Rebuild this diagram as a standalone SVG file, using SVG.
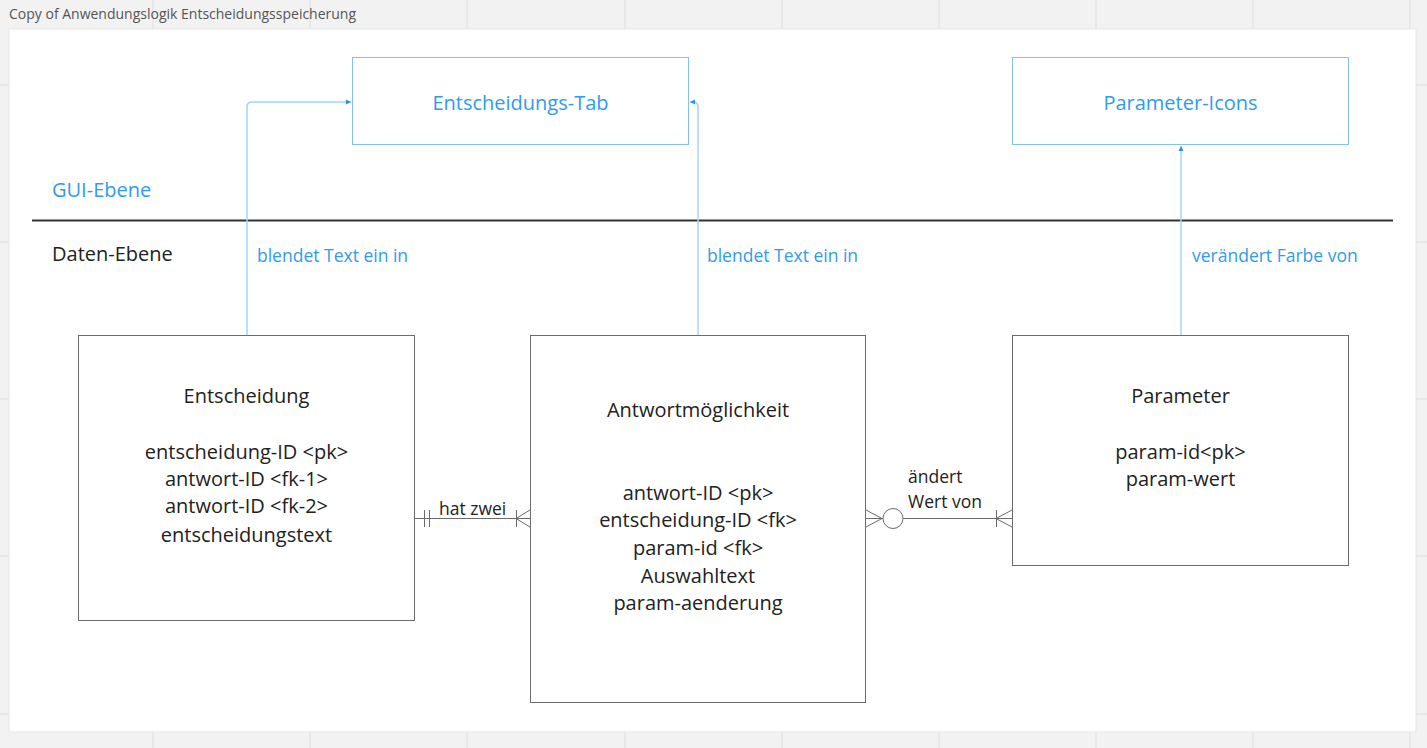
<svg xmlns="http://www.w3.org/2000/svg" width="1427" height="748" viewBox="0 0 1427 748">
<style>
text{font-family:"Open Sans","Liberation Sans",sans-serif}
.grid{stroke:#e4e4e4;stroke-width:1.5}
.gui{fill:#fff;stroke:#82c0f5;stroke-width:1}
.ent{fill:#fff;stroke:#6b6b6b;stroke-width:1}
.bt{fill:#2f9bef;font-size:20px;text-anchor:middle}
.nt{fill:#222;font-size:20px;text-anchor:middle}
.lbl{fill:#2f9bef;font-size:17.5px}
.rl{fill:#222;font-size:17.5px}
.rel{stroke:#6b6b6b;stroke-width:1;fill:none}
.up{stroke:#a6d2fa;stroke-width:1.5;fill:none}
</style>
<defs>
<marker id="ah" markerWidth="6" markerHeight="6" refX="5" refY="3" orient="auto" markerUnits="userSpaceOnUse">
<path d="M0,0.5 L5,3 L0,5.5 Z" fill="#2f8fe0"/>
</marker>
</defs>
<rect x="0" y="0" width="1427" height="748" fill="#f2f2f2"/>
<g id="grid">
<line class="grid" x1="153" y1="0" x2="153" y2="748"/>
<line class="grid" x1="310" y1="0" x2="310" y2="748"/>
<line class="grid" x1="467" y1="0" x2="467" y2="748"/>
<line class="grid" x1="625" y1="0" x2="625" y2="748"/>
<line class="grid" x1="782" y1="0" x2="782" y2="748"/>
<line class="grid" x1="939" y1="0" x2="939" y2="748"/>
<line class="grid" x1="1096" y1="0" x2="1096" y2="748"/>
<line class="grid" x1="1253" y1="0" x2="1253" y2="748"/>
<line class="grid" x1="1410" y1="0" x2="1410" y2="748"/>
<line class="grid" x1="0" y1="85" x2="1427" y2="85"/>
<line class="grid" x1="0" y1="242" x2="1427" y2="242"/>
<line class="grid" x1="0" y1="399" x2="1427" y2="399"/>
<line class="grid" x1="0" y1="556" x2="1427" y2="556"/>
<line class="grid" x1="0" y1="714" x2="1427" y2="714"/>
</g>
<text x="9" y="19" font-size="14" fill="#555">Copy of Anwendungslogik Entscheidungsspeicherung</text>
<rect x="9" y="29" width="1407" height="703" fill="#fff" stroke="#e6e6e6" stroke-width="1"/>

<g id="layers">
<text x="52" y="197" font-size="20" fill="#2f9bef">GUI-Ebene</text>
<line x1="32" y1="220.5" x2="1393" y2="220.5" stroke="#333" stroke-width="2"/>
<text x="52" y="261" font-size="20" fill="#222">Daten-Ebene</text>
</g>

<g id="node-entscheidungs-tab">
<rect class="gui" x="352.5" y="57.5" width="336" height="87"/>
<text class="bt" x="520.5" y="110">Entscheidungs-Tab</text>
</g>
<g id="node-parameter-icons">
<rect class="gui" x="1012.5" y="57.5" width="336" height="87"/>
<text class="bt" x="1180.5" y="110">Parameter-Icons</text>
</g>

<g id="node-entscheidung">
<rect class="ent" x="78.5" y="335.5" width="336" height="285"/>
<text class="nt" x="246.5" y="403">Entscheidung</text>
<text class="nt" x="246.5" y="459">entscheidung-ID &lt;pk&gt;</text>
<text class="nt" x="246.5" y="486">antwort-ID &lt;fk-1&gt;</text>
<text class="nt" x="246.5" y="513">antwort-ID &lt;fk-2&gt;</text>
<text class="nt" x="246.5" y="542">entscheidungstext</text>
</g>

<g id="node-antwortmoeglichkeit">
<rect class="ent" x="530.5" y="335.5" width="335" height="367"/>
<text class="nt" x="698" y="417">Antwortmöglichkeit</text>
<text class="nt" x="698" y="500">antwort-ID &lt;pk&gt;</text>
<text class="nt" x="698" y="527">entscheidung-ID &lt;fk&gt;</text>
<text class="nt" x="698" y="555">param-id &lt;fk&gt;</text>
<text class="nt" x="698" y="583">Auswahltext</text>
<text class="nt" x="698" y="610">param-aenderung</text>
</g>

<g id="node-parameter">
<rect class="ent" x="1012.5" y="335.5" width="336" height="230"/>
<text class="nt" x="1180.5" y="403">Parameter</text>
<text class="nt" x="1180.5" y="459">param-id&lt;pk&gt;</text>
<text class="nt" x="1180.5" y="486">param-wert</text>
</g>

<g id="connectors">
<path class="up" d="M247,335 V107 Q247,102 252,102 H351" marker-end="url(#ah)"/>
<path class="up" d="M698,335 V107 Q698,102 693,102 H690" marker-end="url(#ah)"/>
<path class="up" d="M1181,335 V146" marker-end="url(#ah)"/>
<text class="lbl" x="257" y="262">blendet Text ein in</text>
<text class="lbl" x="707" y="262">blendet Text ein in</text>
<text class="lbl" x="1192" y="262">verändert Farbe von</text>

<line class="rel" x1="415" y1="518.5" x2="530" y2="518.5"/>
<line class="rel" x1="424.5" y1="510" x2="424.5" y2="527"/>
<line class="rel" x1="429.5" y1="510" x2="429.5" y2="527"/>
<line class="rel" x1="516.5" y1="510" x2="516.5" y2="527"/>
<path class="rel" d="M530,510 L516,518.5 L530,527"/>
<text class="rl" x="439" y="515">hat zwei</text>

<line class="rel" x1="866" y1="518.5" x2="883" y2="518.5"/>
<line class="rel" x1="903" y1="518.5" x2="1012" y2="518.5"/>
<path class="rel" d="M866,510 L882,518.5 L866,527"/>
<circle class="rel" cx="893" cy="518.5" r="10"/>
<line class="rel" x1="996.5" y1="510" x2="996.5" y2="527"/>
<path class="rel" d="M1012,510 L996,518.5 L1012,527"/>
<text class="rl" x="908" y="483">ändert</text>
<text class="rl" x="908" y="508">Wert von</text>
</g>
</svg>
